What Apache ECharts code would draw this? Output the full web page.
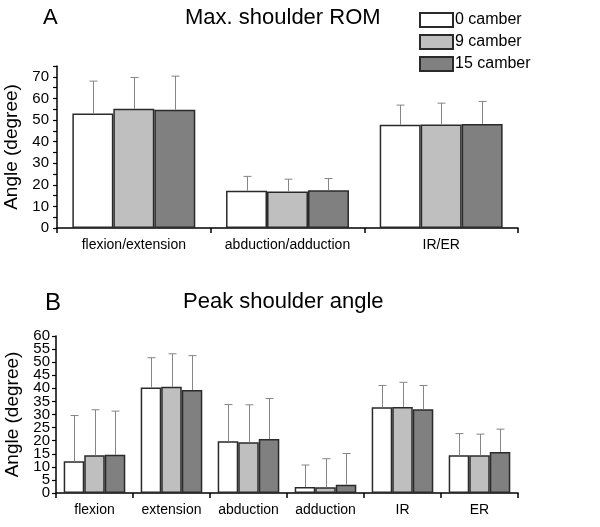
<!DOCTYPE html>
<html><head><meta charset="utf-8">
<script src="https://cdn.jsdelivr.net/npm/echarts@6/dist/echarts.min.js"></script>
<style>html,body{margin:0;padding:0;background:#fff}#c{width:600px;height:527px}</style>
</head><body><div id="c"></div>
<script>
// Panel A: Max. shoulder ROM
var catsA = ['flexion/extension', 'abduction/adduction', 'IR/ER'];
var a0 = [53.0, 17.3, 47.8];
var a9 = [55.2, 16.9, 47.9];
var a15 = [54.7, 17.5, 48.2];
var a0Err = [15.0, 6.6, 9.1];
var a9Err = [14.5, 5.7, 9.9];
var a15Err = [15.6, 5.4, 10.4];
var ticksA = [0, 10, 20, 30, 40, 50, 60, 70];

// Panel B: Peak shoulder angle
var catsB = ['flexion', 'extension', 'abduction', 'adduction', 'IR', 'ER'];
var b0 = [12.1, 40.3, 19.8, 2.3, 32.8, 14.4];
var b9 = [14.4, 40.6, 19.4, 2.2, 32.9, 14.4];
var b15 = [14.6, 39.4, 20.6, 3.2, 32.0, 15.7];
var b0Err = [17.5, 11.4, 14.0, 8.4, 8.3, 8.3];
var b9Err = [17.4, 12.6, 14.3, 10.9, 9.4, 8.1];
var b15Err = [16.7, 13.1, 15.5, 11.9, 9.1, 8.7];
var ticksBEven = [0, 10, 20, 30, 40, 50, 60];
var ticksBOdd = [5, 15, 25, 35, 45, 55];

var names = ['0 camber', '9 camber', '15 camber'];
var colors = ['#ffffff', '#bfbfbf', '#808080'];

var chart = echarts.init(document.getElementById('c'));
var FONT = 'Liberation Sans, Arial, sans-serif';
var NARROW = 'Liberation Sans Narrow, Arial Narrow, ' + FONT;

function errData(vals) {
  var out = [];
  vals.forEach(function (pair, s) {
    pair[0].forEach(function (v, i) { out.push([i, s, v, pair[1][i]]); });
  });
  return out;
}
function renderErr(params, api) {
  var c = api.value(0), s = api.value(1), v = api.value(2), e = api.value(3);
  var bw = api.size([1, 0])[0];
  var barW = bw * 0.8 / 3;
  var p0 = api.coord([c, v]);
  var p1 = api.coord([c, v + e]);
  var x = Math.round(p0[0] + (s - 1) * barW) + 0.5;
  var st = { stroke: '#858585', lineWidth: 1 };
  return { type: 'group', children: [
    { type: 'line', shape: { x1: x, y1: p0[1], x2: x, y2: p1[1] }, style: st },
    { type: 'line', shape: { x1: x - 4, y1: p1[1], x2: x + 4, y2: p1[1] }, style: st }
  ] };
}

function barSeries(name, data, idx, color) {
  return {
    name: name, type: 'bar', xAxisIndex: idx, yAxisIndex: idx, data: data,
    barGap: '0%', barCategoryGap: '20%',
    itemStyle: { color: color, borderColor: '#2a2a2a', borderWidth: 1.5 },
    emphasis: { disabled: true }, z: 2
  };
}

var xCommon = {
  type: 'category',
  axisLine: { lineStyle: { color: '#000', width: 1.5 } },
  axisTick: { show: true, length: 5, lineStyle: { color: '#000', width: 1.5 } },
  axisLabel: { color: '#000', fontSize: 14, fontFamily: FONT, margin: 10, interval: 0, hideOverlap: false },
  splitLine: { show: false }
};

function yAxisDef(idx, max, ticks, gap, lblFont, margin) {
  return {
    type: 'value', gridIndex: idx, min: 0, max: max, interval: 5,
    name: 'Angle (degree)', nameLocation: 'middle', nameGap: gap, nameRotate: 90,
    nameTextStyle: { fontSize: 19, color: '#000', fontFamily: FONT },
    axisLine: { show: true, lineStyle: { color: '#000', width: 1.5 } },
    axisTick: { show: true, length: 4, lineStyle: { color: '#000', width: 1.2 } },
    axisLabel: { color: '#000', fontSize: 15, fontFamily: lblFont, margin: margin,
      showMinLabel: true, showMaxLabel: true, hideOverlap: false,
      formatter: function (v) { return ticks.indexOf(v) >= 0 ? String(v) : ''; } },
    splitLine: { show: false }
  };
}

chart.setOption({
  animation: false,
  backgroundColor: '#fff',
  title: [
    { text: 'A', left: 38, top: 2, textStyle: { fontSize: 22, fontWeight: 'normal', color: '#000', fontFamily: FONT } },
    { text: 'Max. shoulder ROM', left: 180, top: 2, textStyle: { fontSize: 22, fontWeight: 'normal', color: '#000', fontFamily: FONT } },
    { text: 'B', left: 40, top: 286, textStyle: { fontSize: 24, fontWeight: 'normal', color: '#000', fontFamily: FONT } },
    { text: 'Peak shoulder angle', left: 178, top: 286, textStyle: { fontSize: 22, fontWeight: 'normal', color: '#000', fontFamily: FONT } }
  ],
  legend: {
    data: names, orient: 'vertical', left: 414, top: 7, itemWidth: 33, itemHeight: 14, itemGap: 6,
    icon: 'rect', textStyle: { fontSize: 16, color: '#000', fontFamily: FONT, padding: [0, 0, 0, -3] },
    selectedMode: false
  },
  grid: [
    { left: 57, right: 82, top: 66, bottom: 299, outerBoundsMode: 'none' },
    { left: 56, right: 82, top: 336, bottom: 34, outerBoundsMode: 'none' }
  ],
  xAxis: [
    Object.assign({}, xCommon, { gridIndex: 0, data: catsA }),
    Object.assign({}, xCommon, { gridIndex: 1, data: catsB })
  ],
  yAxis: [
    yAxisDef(0, 75, ticksA, 36, FONT, 8),
    yAxisDef(1, 60, ticksBEven, 33, NARROW, 6),
    {
      type: 'value', gridIndex: 1, min: 0, max: 60, interval: 5, position: 'left', offset: 0,
      axisLine: { show: false }, axisTick: { show: false }, splitLine: { show: false },
      axisLabel: { color: '#000', fontSize: 15, fontFamily: NARROW, margin: 6,
        showMinLabel: false, showMaxLabel: false, hideOverlap: false,
        formatter: function (v) { return ticksBOdd.indexOf(v) >= 0 ? String(v) : ''; } }
    }
  ],
  series: [
    barSeries(names[0], a0, 0, colors[0]),
    barSeries(names[1], a9, 0, colors[1]),
    barSeries(names[2], a15, 0, colors[2]),
    barSeries(names[0], b0, 1, colors[0]),
    barSeries(names[1], b9, 1, colors[1]),
    barSeries(names[2], b15, 1, colors[2]),
    { type: 'custom', xAxisIndex: 0, yAxisIndex: 0, renderItem: renderErr, z: 3,
      encode: { x: 0, y: 2 }, silent: true,
      data: errData([[a0, a0Err], [a9, a9Err], [a15, a15Err]]) },
    { type: 'custom', xAxisIndex: 1, yAxisIndex: 1, renderItem: renderErr, z: 3,
      encode: { x: 0, y: 2 }, silent: true,
      data: errData([[b0, b0Err], [b9, b9Err], [b15, b15Err]]) }
  ]
});
</script></body></html>
